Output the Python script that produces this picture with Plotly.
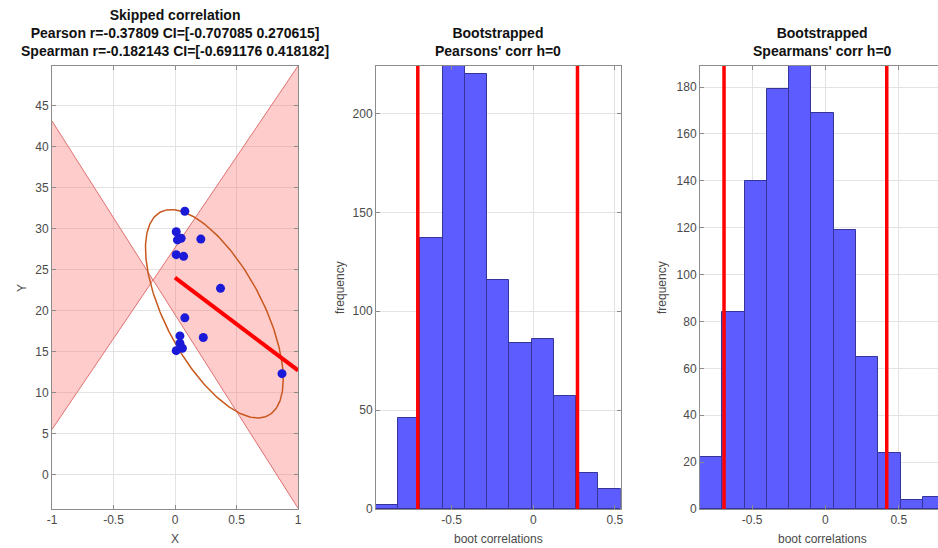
import numpy as np
import plotly.graph_objects as go

# ---------------- data ----------------
# scatter points (skipped correlation panel)
x_pts = [0.08, 0.01, 0.02, 0.05, 0.21, 0.01, 0.07, 0.37, 0.08, 0.04, 0.23, 0.04, 0.06, 0.01, 0.87]
y_pts = [32.1, 29.6, 28.6, 28.8, 28.7, 26.8, 26.6, 22.7, 19.1, 16.9, 16.7, 16.0, 15.4, 15.1, 12.3]

# regression line
fit_intercept = 24.0
fit_slope = -11.3
fit_x = [0.0, 1.0]

# bootstrap CI lines (hourglass)
hg_slopes = [-23.6, 22.15]
hg_intercepts = [19.5, 27.65]

# ellipse parameters
ell_center = [0.32, 19.6]
ell_half_extent = [0.56, 12.7]
ell_phase = 2.25

# bootstrapped Pearson histogram
pear_counts = [2, 46, 137, 224, 220, 116, 84, 86, 57, 18, 10]
pear_bin_start = -0.963
pear_bin_width = 0.1362
pear_ci = [-0.707085, 0.270615]

# bootstrapped Spearman histogram
spear_counts = [22, 84, 140, 179, 189, 169, 119, 65, 24, 4, 5]
spear_bin_start = -0.855
spear_bin_width = 0.152
spear_ci = [-0.691176, 0.418182]

x1_ticks = [-1, -0.5, 0, 0.5, 1]
x1_labels = ["-1", "-0.5", "0", "0.5", "1"]
y1_ticks = [0, 5, 10, 15, 20, 25, 30, 35, 40, 45]
x_hist_ticks = [-0.5, 0, 0.5]
x_hist_labels = ["-0.5", "0", "0.5"]
y2_ticks = [0, 50, 100, 150, 200]
y3_ticks = [0, 20, 40, 60, 80, 100, 120, 140, 160, 180]

# ---------------- figure ----------------
W, H = 938, 548
FONT = "Liberation Sans, Arial, sans-serif"
AX = "#8c8c8c"
GRID = "#e3e3e3"
TICKC = "#4a4a4a"


def px(p):
    return p / W


def py(p):
    return 1 - p / H


fig = go.Figure()

x1_range = [-1, 1]
y1_range = [-4.2, 49.8]

# hourglass fill
a_s, b_s = hg_slopes
a_i, b_i = hg_intercepts
xc = (b_i - a_i) / (a_s - b_s)
yc = a_i + a_s * xc
xl, xr = x1_range
left_x = [xl, xc, xl, xl]
left_y = [a_i + a_s * xl, yc, b_i + b_s * xl, a_i + a_s * xl]
right_x = [xc, xr, xr, xc]
right_y = [yc, b_i + b_s * xr, a_i + a_s * xr, yc]
for qx, qy in [(left_x, left_y), (right_x, right_y)]:
    fig.add_trace(go.Scatter(x=qx, y=qy, mode="lines", fill="toself",
                             fillcolor="rgba(255,110,110,0.35)", line=dict(width=0),
                             hoverinfo="skip", showlegend=False, xaxis="x", yaxis="y"))
for s, i in zip(hg_slopes, hg_intercepts):
    fig.add_trace(go.Scatter(x=[xl, xr], y=[i + s * xl, i + s * xr], mode="lines",
                             line=dict(color="#e07070", width=1),
                             hoverinfo="skip", showlegend=False, xaxis="x", yaxis="y"))

# ellipse
t = np.linspace(0, 2 * np.pi, 300)
ex = ell_center[0] + ell_half_extent[0] * np.cos(t)
ey = ell_center[1] + ell_half_extent[1] * np.cos(t - ell_phase)
fig.add_trace(go.Scatter(x=ex, y=ey, mode="lines", line=dict(color="#c8581e", width=1.5),
                         hoverinfo="skip", showlegend=False, xaxis="x", yaxis="y"))

# points
fig.add_trace(go.Scatter(x=x_pts, y=y_pts, mode="markers",
                         marker=dict(color="#1a1ad8", size=9, line=dict(width=0)),
                         showlegend=False, xaxis="x", yaxis="y"))

# fit line
fig.add_trace(go.Scatter(x=fit_x, y=[fit_intercept + fit_slope * v for v in fit_x], mode="lines",
                         line=dict(color="#ff0000", width=4),
                         showlegend=False, xaxis="x", yaxis="y"))


# histograms
def centers(start, width, n):
    return [start + width * (k + 0.5) for k in range(n)]


fig.add_trace(go.Bar(x=centers(pear_bin_start, pear_bin_width, len(pear_counts)), y=pear_counts,
                     width=pear_bin_width, marker=dict(color="#5c5cff", line=dict(color="#34349a", width=1)),
                     showlegend=False, xaxis="x2", yaxis="y2"))
fig.add_trace(go.Bar(x=centers(spear_bin_start, spear_bin_width, len(spear_counts)), y=spear_counts,
                     width=spear_bin_width, marker=dict(color="#5c5cff", line=dict(color="#34349a", width=1)),
                     showlegend=False, xaxis="x3", yaxis="y3"))

for ci, xa, ya in [(pear_ci, "x2", "y2"), (spear_ci, "x3", "y3")]:
    for v in ci:
        fig.add_shape(type="line", x0=v, x1=v, y0=0, y1=1, xref=xa, yref=ya + " domain",
                      line=dict(color="#ff0000", width=3.5))

ydom = [py(509), py(66)]


def xax(dom, rng, tv, tt, mirror=True):
    return dict(domain=dom, range=rng, tickvals=tv, ticktext=tt, showgrid=True, gridcolor=GRID,
                zeroline=False, showline=True, linecolor=AX, linewidth=1, mirror="ticks" if mirror else False,
                ticks="inside", ticklen=4, tickcolor=AX, automargin=False,
                tickfont=dict(family=FONT, size=12, color=TICKC))


def yax(dom, rng, tv, anchor, mirror=True):
    return dict(domain=dom, range=rng, tickvals=tv, ticktext=[str(v) for v in tv], anchor=anchor,
                showgrid=True, gridcolor=GRID, zeroline=False, showline=True, linecolor=AX,
                linewidth=1, mirror="ticks" if mirror else False, ticks="inside", ticklen=4,
                tickcolor=AX, automargin=False, tickfont=dict(family=FONT, size=12, color=TICKC))


d1 = [px(52), px(298)]
d2 = [px(376), px(620.7)]
d3 = [px(700), 1.0]

fig.update_layout(
    width=W, height=H, margin=dict(l=0, r=0, t=0, b=0, autoexpand=False),
    paper_bgcolor="white", plot_bgcolor="white", bargap=0,
    xaxis=dict(**xax(d1, x1_range, x1_ticks, x1_labels), anchor="y"),
    yaxis=yax(ydom, y1_range, y1_ticks, "x"),
    xaxis2=dict(**xax(d2, [pear_bin_start, pear_bin_start + pear_bin_width * len(pear_counts)],
                      x_hist_ticks, x_hist_labels), anchor="y2"),
    yaxis2=yax(ydom, [0, max(pear_counts)], y2_ticks, "x2"),
    xaxis3=dict(**xax(d3, [spear_bin_start, 0.7676], x_hist_ticks, x_hist_labels), anchor="y3"),
    yaxis3=yax(ydom, [0, max(spear_counts)], y3_ticks, "x3", mirror=False),
)

title_font = dict(family=FONT, size=14, color="#111111")
ytop = py(61)
titles = [
    ((d1[0] + d1[1]) / 2, "<b>Skipped correlation</b><br><b>Pearson r=-0.37809 CI=[-0.707085 0.270615]</b><br><b>Spearman r=-0.182143 CI=[-0.691176 0.418182]</b>"),
    ((d2[0] + d2[1]) / 2, "<b>Bootstrapped</b><br><b>Pearsons' corr h=0</b>"),
    ((px(700) + px(945)) / 2, "<b>Bootstrapped</b><br><b>Spearmans' corr h=0</b>"),
]
for xx, txt in titles:
    fig.add_annotation(x=xx, y=ytop, xref="paper", yref="paper", text=txt, showarrow=False,
                       xanchor="center", yanchor="bottom", font=title_font, align="center")

lab_font = dict(family=FONT, size=12, color=TICKC)
ymid = py(288)
for xx, txt in [(px(22), "Y"), (px(340), "frequency"), (px(662), "frequency")]:
    fig.add_annotation(x=xx, y=ymid, xref="paper", yref="paper", text=txt, textangle=-90,
                       showarrow=False, xanchor="center", yanchor="middle", font=lab_font)
for xx, txt in [((d1[0] + d1[1]) / 2, "X"), ((d2[0] + d2[1]) / 2, "boot correlations"),
                ((px(700) + px(945)) / 2, "boot correlations")]:
    fig.add_annotation(x=xx, y=py(539), xref="paper", yref="paper", text=txt,
                       showarrow=False, xanchor="center", yanchor="middle", font=lab_font)

fig.write_html("out.html", config={"displayModeBar": False},
               post_script="document.body.style.margin='0';"
                           "document.documentElement.style.overflow='hidden';")
